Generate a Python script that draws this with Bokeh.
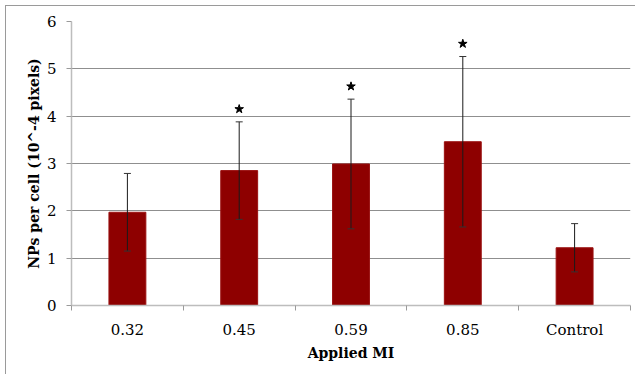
from bokeh.plotting import figure
from bokeh.models import ColumnDataSource, Whisker, TeeHead, FixedTicker
from bokeh.embed import file_html
from bokeh.resources import INLINE

# Data
categories = ["0.32", "0.45", "0.59", "0.85", "Control"]
means = [1.97, 2.85, 2.99, 3.46, 1.22]
errors = [0.82, 1.03, 1.37, 1.80, 0.51]
significant = [False, True, True, True, False]
y_ticks = [0, 1, 2, 3, 4, 5, 6]

x = [i + 0.5 for i in range(len(categories))]
upper = [m + e for m, e in zip(means, errors)]
lower = [m - e for m, e in zip(means, errors)]
src = ColumnDataSource(dict(x=x, top=means, upper=upper, lower=lower))

star_x = [xi for xi, s in zip(x, significant) if s]
star_y = [u + 0.27 for u, s in zip(upper, significant) if s]

FONT = "DejaVu Serif"

p = figure(width=630, height=369, x_range=(0, 5), y_range=(0, 6),
           output_backend="svg", toolbar_location=None,
           min_border_left=65, min_border_right=6, min_border_top=15,
           min_border_bottom=70)
p.styles = {"border-top": "1px solid #9a9a9a", "border-left": "1px solid #9a9a9a",
            "margin-left": "5px", "margin-top": "5px"}
p.outline_line_color = None
p.background_fill_color = "white"

p.vbar(x="x", top="top", width=0.33, bottom=0, source=src,
       fill_color="#8e0000", line_color="#9a1010", line_width=1)

w = Whisker(source=src, base="x", upper="upper", lower="lower",
            level="overlay", line_color="#1a1a1a", line_width=1,
            upper_head=TeeHead(size=7, line_color="#333333", line_width=1),
            lower_head=TeeHead(size=7, line_color="#333333", line_width=1))
p.add_layout(w)

p.scatter(star_x, star_y, marker="star", size=9, fill_color="black",
          line_color="black")

# grid
p.xgrid.grid_line_color = None
p.ygrid.grid_line_color = "#8f8f8f"
p.ygrid.grid_line_width = 1
p.ygrid.ticker = FixedTicker(ticks=y_ticks)

# y axis
p.yaxis.ticker = FixedTicker(ticks=y_ticks)
p.yaxis.axis_line_color = "#bdbdbd"
p.yaxis.axis_line_width = 1.5
p.yaxis.major_tick_line_color = "#9a9a9a"
p.yaxis.major_tick_out = 5
p.yaxis.major_tick_in = 0
p.yaxis.minor_tick_line_color = None
p.yaxis.major_label_text_font = FONT
p.yaxis.major_label_text_font_size = "15px"
p.yaxis.major_label_text_color = "black"
p.yaxis.major_label_standoff = 10
p.yaxis.axis_label = "NPs per cell (10^-4 pixels)"
p.yaxis.axis_label_text_font = FONT
p.yaxis.axis_label_text_font_style = "bold"
p.yaxis.axis_label_text_font_size = "14px"
p.yaxis.axis_label_text_color = "black"
p.yaxis.axis_label_standoff = 2

# x axis: labels at centres, ticks at category boundaries
p.xaxis.ticker = FixedTicker(ticks=x, minor_ticks=list(range(len(categories) + 1)))
p.xaxis.major_label_overrides = {xi: c for xi, c in zip(x, categories)}
p.xaxis.axis_line_color = "#bdbdbd"
p.xaxis.axis_line_width = 1.5
p.xaxis.major_tick_line_color = None
p.xaxis.major_tick_out = 0
p.xaxis.major_tick_in = 0
p.xaxis.minor_tick_line_color = "#9a9a9a"
p.xaxis.minor_tick_out = 5
p.xaxis.minor_tick_in = 0
p.xaxis.major_label_text_font = FONT
p.xaxis.major_label_text_font_size = "15px"
p.xaxis.major_label_text_color = "black"
p.xaxis.major_label_standoff = 10
p.xaxis.axis_label = "Applied MI"
p.xaxis.axis_label_text_font = FONT
p.xaxis.axis_label_text_font_style = "bold"
p.xaxis.axis_label_text_font_size = "14px"
p.xaxis.axis_label_text_color = "black"
p.xaxis.axis_label_standoff = 3

open("out.html", "w").write(file_html(p, INLINE))
